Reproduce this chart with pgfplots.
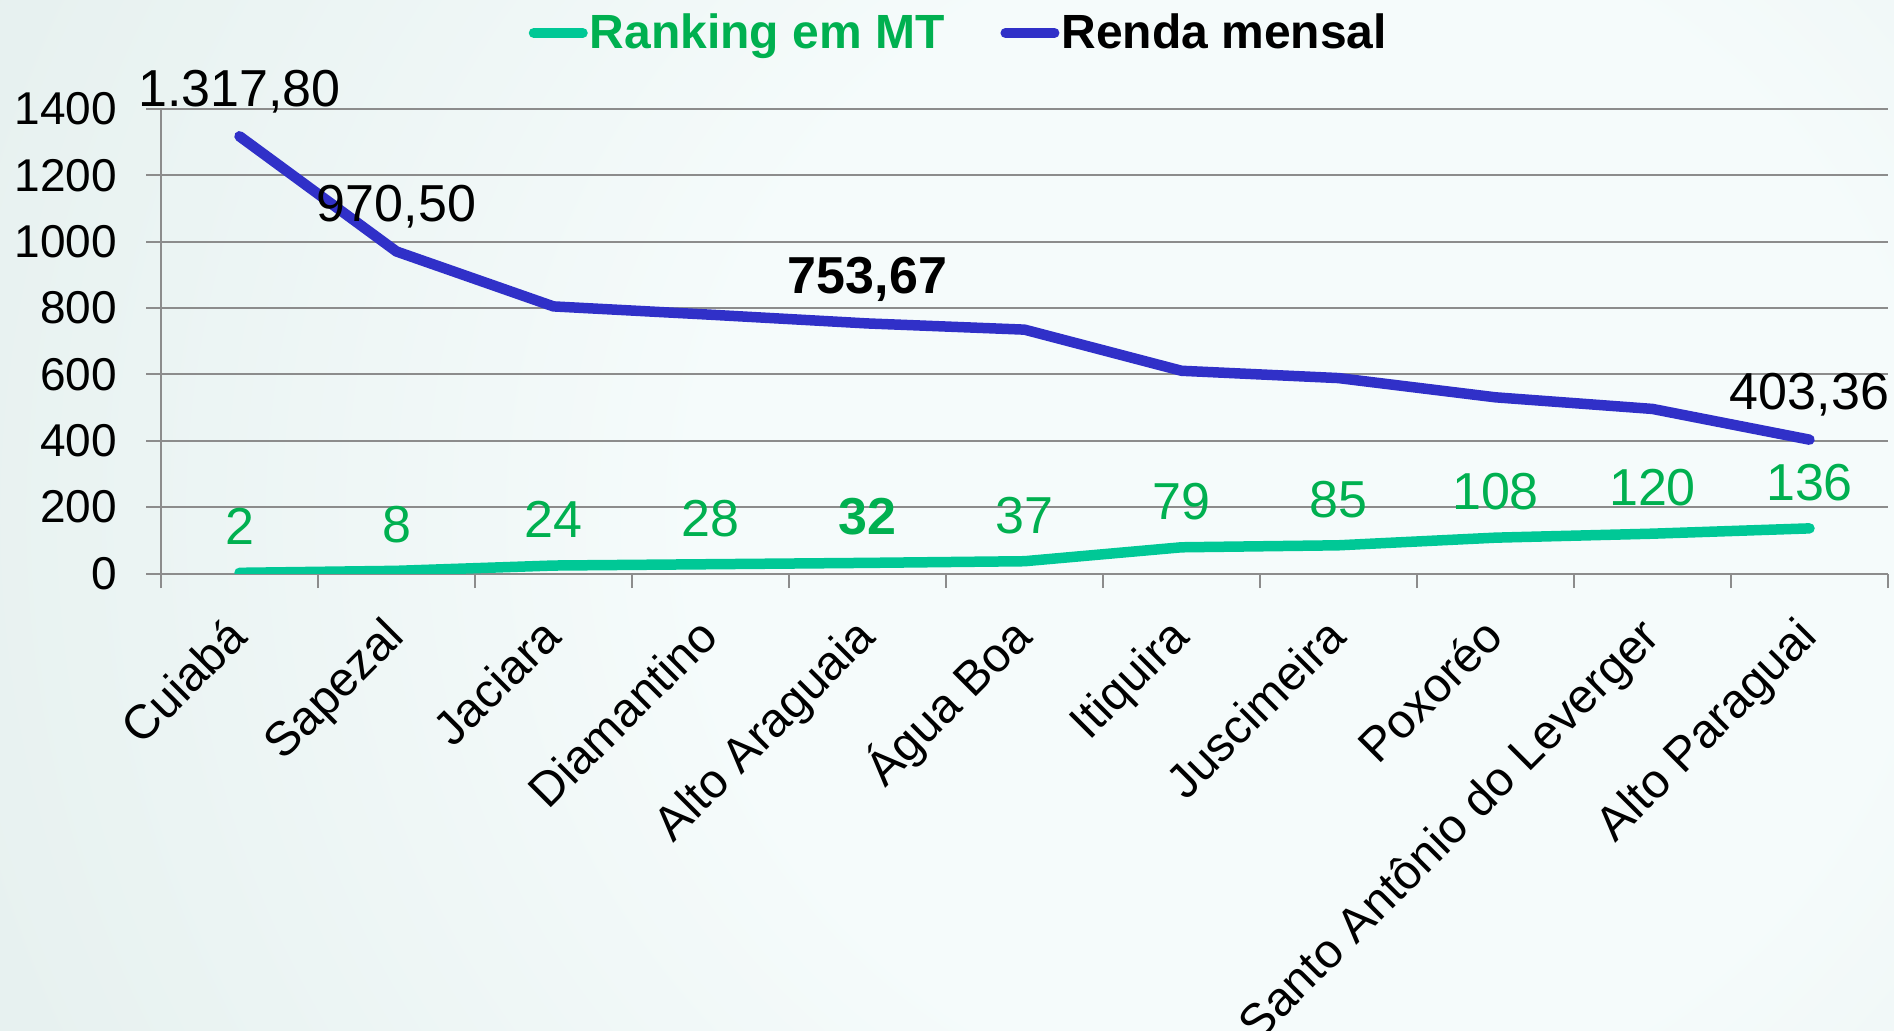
\documentclass[border=0pt]{standalone}
\usepackage{fontspec}
\setmainfont{Liberation Sans}
\usepackage{pgfplots}
\pgfplotsset{compat=1.18}
\definecolor{rankline}{HTML}{00C896}
\definecolor{ranktext}{HTML}{00B050}
\definecolor{rendaline}{HTML}{3030C8}
\definecolor{gridgray}{HTML}{8C8C8C}
\definecolor{bgin}{HTML}{F5FBFB}
\definecolor{bgout}{HTML}{D3E3E0}
\pgfdeclareradialshading{bgshade}{\pgfpoint{12bp}{0bp}}{color(0bp)=(bgin); color(16bp)=(bgin); color(60bp)=(bgout); color(80bp)=(bgout)}
\begin{document}
\begin{tikzpicture}
\useasboundingbox (0,0) rectangle (947bp,515.5bp);
\path[shading=bgshade] (0,-200bp) rectangle (947bp,715bp);
\begin{axis}[
  at={(80.5bp,228.75bp)}, anchor=south west,
  scale only axis, width=863.5bp, height=232.25bp,
  xmin=-0.5, xmax=10.5, ymin=0, ymax=1400,
  axis x line*=bottom, axis y line*=left,
  axis line style={draw=gridgray, line width=1bp},
  ytick={0,200,400,600,800,1000,1200,1400},
  ymajorgrids, grid style={draw=gridgray, line width=1bp},
  xtick={-0.5,0.5,1.5,2.5,3.5,4.5,5.5,6.5,7.5,8.5,9.5,10.5},
  xticklabels={},
  extra x ticks={0.064,1.064,2.064,3.064,4.064,5.064,6.064,7.064,8.064,9.064,10.064},
  extra x tick labels={Cuiabá, Sapezal, Jaciara, Diamantino, Alto Araguaia, Água Boa, Itiquira, Juscimeira, Poxoréo, Santo Antônio do Leverger, Alto Paraguai},
  extra x tick style={major tick length=0pt, grid=none},
  tick align=outside,
  major tick length=7.25bp,
  tick style={draw=gridgray, line width=1bp},
  /pgf/number format/assume math mode=true,
  /pgf/number format/1000 sep={},
  yticklabel style={font=\fontsize{23bp}{27bp}\selectfont, anchor=east, inner sep=0pt},
  yticklabel shift=14.5bp,
  xticklabel style={font=\fontsize{24bp}{28bp}\selectfont, rotate=45, anchor=base east, inner sep=0pt},
  xticklabel shift=32.75bp,
  legend style={at={(0.4614,1.1637)}, anchor=center, draw=none, fill=none,
    legend columns=2, font=\fontsize{24bp}{28bp}\selectfont\bfseries,
    nodes={inner sep=0pt},
    /tikz/every odd column/.append style={column sep=1bp},
    /tikz/every even column/.append style={column sep=28bp}},
  legend image code/.code={\draw[#1, line width=5bp, line cap=round] (2.5bp,0bp) -- (27bp,0bp);},
]
\addplot[rankline, line width=5.25bp, line cap=round, line join=round, mark=none]
  coordinates {(0,2)(1,8)(2,24)(3,28)(4,32)(5,37)(6,79)(7,85)(8,108)(9,120)(10,136)};
\addlegendentry{\textcolor{ranktext}{Ranking em MT}}
\addplot[rendaline, line width=5.25bp, line cap=round, line join=round, mark=none]
  coordinates {(0,1317.80)(1,970.50)(2,805)(3,780)(4,753.67)(5,735)(6,611)(7,589)(8,531)(9,496)(10,403.36)};
\addlegendentry{Renda mensal}
% green labels
\addplot[draw=none, mark=none, forget plot, point meta=explicit symbolic, nodes near coords,
  nodes near coords style={font=\fontsize{26bp}{30bp}\selectfont, text=ranktext, anchor=base, inner sep=0pt, yshift=14bp}]
  coordinates {(0,2)[2] (1,8)[8] (2,24)[24] (3,28)[28] (5,37)[37] (6,79)[79] (7,85)[85] (8,108)[108] (9,120)[120] (10,136)[136]};
\addplot[draw=none, mark=none, forget plot, point meta=explicit symbolic, nodes near coords,
  nodes near coords style={font=\fontsize{26bp}{30bp}\selectfont\bfseries, text=ranktext, anchor=base, inner sep=0pt, yshift=14bp}]
  coordinates {(4,32)[32]};
% renda labels
\addplot[draw=none, mark=none, forget plot, point meta=explicit symbolic, nodes near coords,
  nodes near coords style={font=\fontsize{26bp}{30bp}\selectfont, text=black, anchor=base, inner sep=0pt, yshift=15bp}]
  coordinates {(0,1317.80)[1.317,80] (1,970.50)[970,50] (10,403.36)[403,36]};
\addplot[draw=none, mark=none, forget plot, point meta=explicit symbolic, nodes near coords,
  nodes near coords style={font=\fontsize{26bp}{30bp}\selectfont\bfseries, text=black, anchor=base, inner sep=0pt, yshift=15bp}]
  coordinates {(4,753.67)[753,67]};
\end{axis}
\end{tikzpicture}
\end{document}
